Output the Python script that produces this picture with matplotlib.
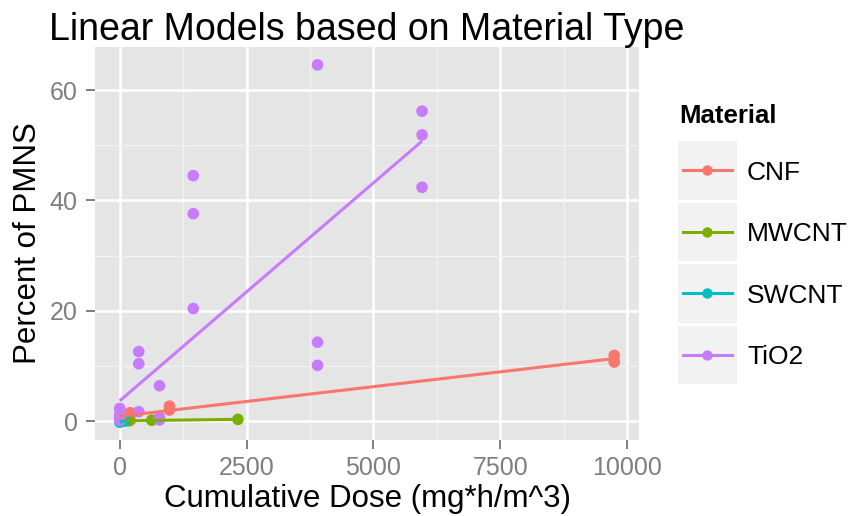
import numpy as np
import matplotlib
matplotlib.use("Agg")
import matplotlib.pyplot as plt
from matplotlib.patches import Rectangle
from matplotlib.lines import Line2D

plt.rcParams['font.family'] = ['Liberation Sans', 'DejaVu Sans']

# data (dose in mg*h/m^3, percent of PMNs)
cnf_x = [0, 0, 205, 205, 205, 980, 980, 9750, 9750]
cnf_y = [1.0, 0.6, 1.5, 1.0, 0.1, 2.7, 2.0, 11.9, 10.7]

mwcnt_x = [30, 178, 632, 2330]
mwcnt_y = [0.0, 0.05, 0.15, 0.3]

swcnt_x = [0, 10, 100]
swcnt_y = [-0.2, -0.1, 0.0]

tio2_x = [0, 0, 0, 0, 0, 0, 0, 0,
          375, 375, 375, 784, 784, 784,
          1450, 1450, 1450, 3900, 3900, 3900,
          5960, 5960, 5960]
tio2_y = [2.3, 1.2, 0.8, 0.6, 0.4, 0.3, 0.2, 0.1,
          12.6, 10.4, 1.7, 6.4, 0.7, 0.2,
          44.5, 37.6, 20.4, 64.6, 14.3, 10.1,
          56.2, 51.9, 42.4]

materials = ["CNF", "MWCNT", "SWCNT", "TiO2"]
colors = ["#F8766D", "#7CAE00", "#00BFC4", "#C77CFF"]
groups = [(cnf_x, cnf_y), (mwcnt_x, mwcnt_y), (swcnt_x, swcnt_y), (tio2_x, tio2_y)]

GREY = "#7F7F7F"

fig = plt.figure(figsize=(8.49, 5.16), dpi=100)
ax = fig.add_axes([95 / 849, 76 / 516, 544 / 849, 393 / 516])
ax.set_facecolor("#E5E5E5")
for s in ax.spines.values():
    s.set_visible(False)

# points first, then the fitted lines on top (like ggplot)
for (gx, gy), c in zip(groups, colors):
    ax.scatter(gx, gy, s=70, color=c, edgecolors="none", zorder=3)
for (gx, gy), c in zip(groups, colors):
    gx = np.array(gx, float)
    gy = np.array(gy, float)
    k, b = np.polyfit(gx, gy, 1)
    xs = np.array([gx.min(), gx.max()])
    ax.plot(xs, k * xs + b, color=c, lw=2.2, solid_capstyle="butt", zorder=4)

# ggplot style 5% expansion
all_x = np.concatenate([np.array(g[0], float) for g in groups])
all_y = np.concatenate([np.array(g[1], float) for g in groups])
dx = (all_x.max() - all_x.min()) * 0.05
dy = (all_y.max() - all_y.min()) * 0.05
ax.set_xlim(all_x.min() - dx, all_x.max() + dx)
ax.set_ylim(all_y.min() - dy, all_y.max() + dy)

ax.set_xticks([0, 2500, 5000, 7500, 10000])
ax.set_xticks([1250, 3750, 6250, 8750], minor=True)
ax.set_yticks([0, 20, 40, 60])
ax.set_yticks([10, 30, 50], minor=True)
ax.grid(which="major", color="white", lw=1.8)
ax.grid(which="minor", color="#F2F2F2", lw=0.9)
ax.set_axisbelow(True)
ax.tick_params(which="major", length=6.5, width=1.4, color=GREY,
               labelcolor=GREY, labelsize=18)
ax.tick_params(axis="x", pad=5)
ax.tick_params(axis="y", pad=6)
ax.tick_params(which="minor", length=0)

ax.set_xlabel("Cumulative Dose (mg*h/m^3)", fontsize=22.5, labelpad=3)
ax.set_ylabel("Percent of PMNS", fontsize=22.5, labelpad=5)

fig.text((95 + 639) / 2 / 849, 1 - 40 / 516, "Linear Models based on Material Type",
         fontsize=27, ha="center", va="baseline")

# legend drawn by hand in pixel space
lax = fig.add_axes([0, 0, 1, 1])
lax.set_xlim(0, 849)
lax.set_ylim(516, 0)
lax.axis("off")
lax.text(679, 123, "Material", fontsize=18.5, fontweight="bold", va="baseline")
key_top = 141
key_h = 61.5
for i, (name, c) in enumerate(zip(materials, colors)):
    y0 = key_top + i * key_h
    lax.add_patch(Rectangle((678, y0), 59, key_h - 3, facecolor="#F2F2F2",
                            edgecolor="none"))
    yc = y0 + (key_h - 3) / 2
    lax.add_line(Line2D([683, 732], [yc, yc], color=c, lw=2.2))
    lax.plot([707.5], [yc], "o", color=c, ms=7.5, mec="none")
    lax.text(747, yc, name, fontsize=19, va="center_baseline")

fig.savefig("out.png", dpi=100)
